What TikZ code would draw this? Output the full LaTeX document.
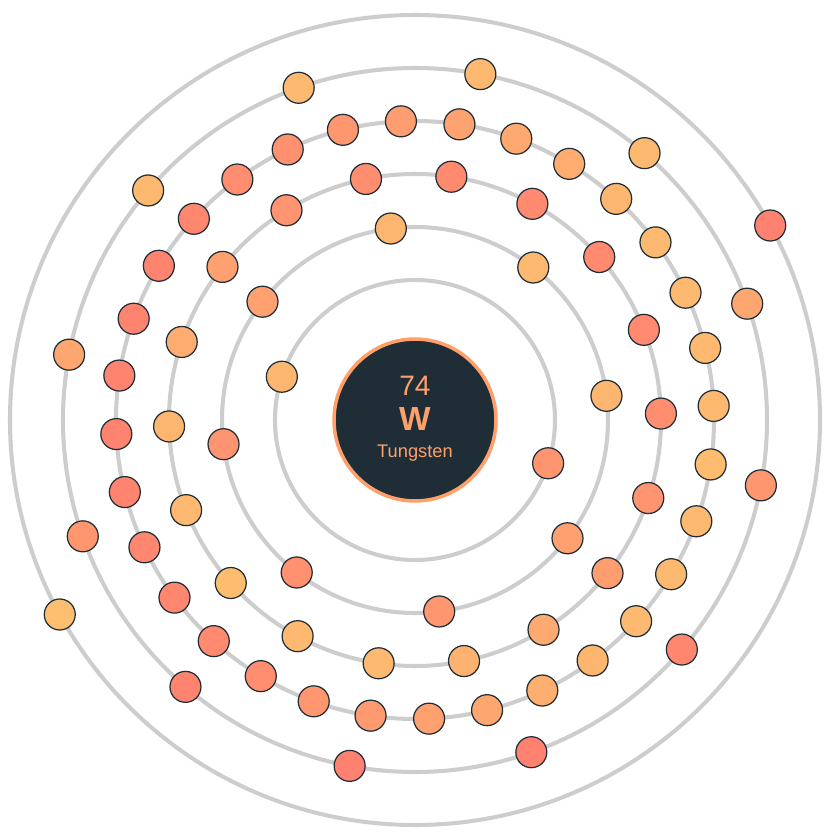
\documentclass[tikz,border=0pt]{standalone}
\usepackage{fontspec}
\setmainfont{Liberation Sans}
\usetikzlibrary{positioning}

\definecolor{ringGray}{HTML}{CDCDCD}
\definecolor{coreFill}{HTML}{1F2D37}
\definecolor{coreEdge}{HTML}{FFA06A}
\definecolor{eRed}{HTML}{FF8170}
\definecolor{eLight}{HTML}{FDBF6F}

\tikzset{
  ring/.style = {draw = ringGray, line width = 2.3pt},
  electron/.style = {circle, draw = coreFill, line width = 0.7pt, minimum size = 0.62cm, inner sep = 0pt},
  label/.style = {text = coreEdge, anchor = base}
}

\begin{document}
\begin{tikzpicture}[x = 0.02cm, y = 0.02cm]
	 \useasboundingbox (-415, -415) rectangle (420, 420);
	 
	 % shells
	 \foreach \r in {140, 193, 246, 299, 352, 405}
	 \draw[ring] (0, 0) circle (\r);
	 
	 % nucleus
	 \node[circle, fill = coreFill, draw = coreEdge, line width = 2pt, minimum size = 3.24cm] (core) at (0, 0) {};
	 \node[label, font = \fontsize{16}{18}\selectfont] (num) at (0, 24.5) {74};
	 \node[label, font = \fontsize{19}{21}\selectfont\bfseries] (sym) at (0, -10.5) {W};
	 \node[label, font = \fontsize{10.4}{12}\selectfont] (name) at (0, -37.5) {Tungsten};
	 
	 % shell 1
	 \foreach \a/\p [count = \i] in {-18/30, 162/85}
	 \node[electron, fill = eLight!\p!eRed] (s1e\i) at (\a:140) {};
	 
	 % shell 2
	 \foreach \p [count = \i from 0, evaluate = \i as \a using 97.2 - 45*\i] in {85, 90, 85, 50, 35, 25, 30, 50}
	 \node[electron, fill = eLight!\p!eRed] (s2e\i) at (\a:193) {};
	 
	 % shell 3
	 \foreach \p [count = \i from 0, evaluate = \i as \a using 101.5 - 20*\i] in {20, 15, 15, 15, 15, 20, 30, 45, 65, 80, 90, 90, 95, 90, 85, 70, 50, 30}
	 \node[electron, fill = eLight!\p!eRed] (s3e\i) at (\a:246) {};
	 
	 % shell 4
	 \foreach \p [count = \i from 0, evaluate = \i as \a using 92.7 - 11.25*\i] in {45, 55, 65, 70, 85, 90, 90, 90, 90, 95, 90, 90, 90, 85, 75, 60, 50, 40, 35, 20, 15, 10, 10, 5, 5, 5, 5, 5, 10, 20, 25, 35}
	 \node[electron, fill = eLight!\p!eRed] (s4e\i) at (\a:299) {};
	 
	 % shell 5
	 \foreach \p [count = \i from 0, evaluate = \i as \a using 79.3 - 30*\i] in {90, 90, 60, 35, 10, 0, 0, 5, 35, 60, 90, 90}
	 \node[electron, fill = eLight!\p!eRed] (s5e\i) at (\a:352) {};
	 
	 % shell 6
	 \foreach \a/\p [count = \i] in {28.7/0, 208.7/100}
	 \node[electron, fill = eLight!\p!eRed] (s6e\i) at (\a:405) {};
\end{tikzpicture}
\end{document}
